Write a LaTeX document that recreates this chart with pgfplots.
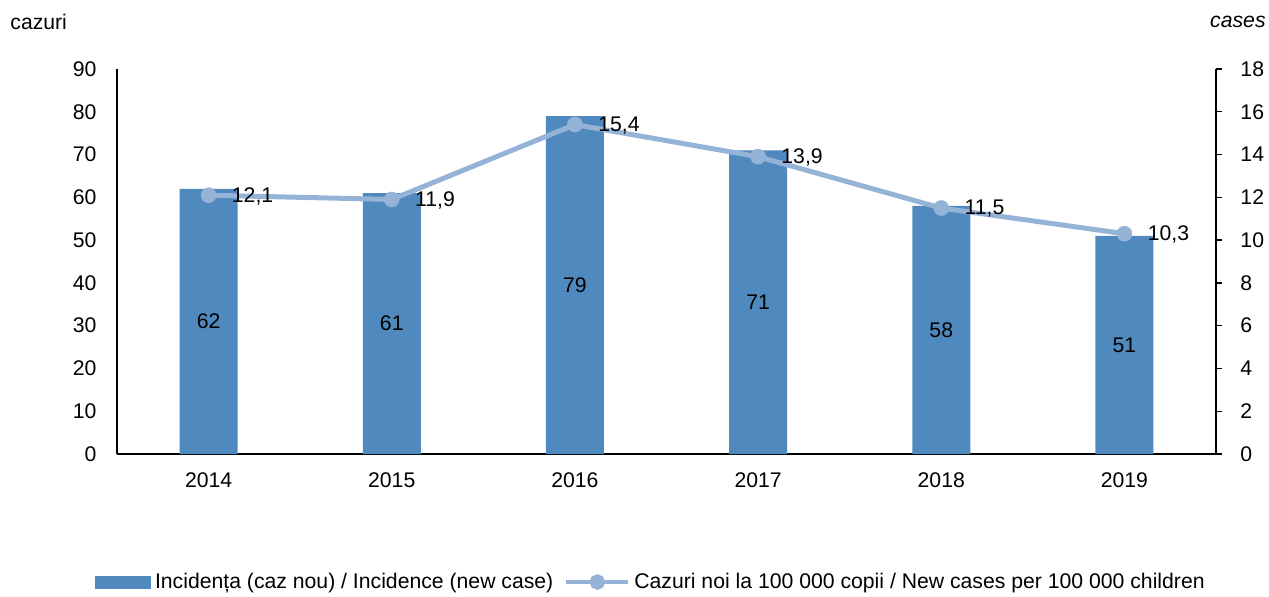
\documentclass[border=0pt]{standalone}
\usepackage{pgfplots}
\pgfplotsset{compat=1.18}
\usepackage{fontspec}
\setmainfont{Liberation Sans}
\definecolor{barblue}{HTML}{4F89BD}
\definecolor{lineblue}{HTML}{95B3D7}
\newcommand{\chartfont}{\fontsize{10.6}{12.5}\selectfont}
\begin{document}
\chartfont
\begin{tikzpicture}
\path[use as bounding box] (0pt,0pt) rectangle (634.5pt,298pt);
\node[anchor=west, inner sep=0pt, font=\chartfont] at (5pt,287pt) {cazuri};
\node[anchor=east, inner sep=0pt, font=\chartfont\itshape] at (633pt,287pt) {cases};
\begin{axis}[
  at={(58.5pt,71pt)}, anchor=south west,
  scale only axis, width=549.5pt, height=192.5pt,
  xmin=-0.5, xmax=5.5, ymin=0, ymax=90,
  axis y line*=left, axis x line*=bottom,
  xtick={0,1,2,3,4,5}, xticklabels={2014,2015,2016,2017,2018,2019},
  ytick={0,10,...,90},
  major tick length=0pt,
  axis line style={line width=0.7pt, -},
  tick label style={font=\chartfont},
  /pgf/number format/assume math mode=true,
  yticklabel style={xshift=-6.5pt},
  xticklabel style={yshift=-5.5pt},
  clip=false,
]
\addplot[ybar, bar width=29pt, fill=barblue, draw=none, forget plot] coordinates {(0,62) (1,61) (2,79) (3,71) (4,58) (5,51)};
\addplot[draw=none, mark=none, forget plot, point meta=explicit symbolic, nodes near coords,
  nodes near coords style={anchor=center, text=black, font=\chartfont}]
  coordinates {(0,31) [62] (1,30.5) [61] (2,39.5) [79] (3,35.5) [71] (4,29) [58] (5,25.5) [51]};
\end{axis}
\begin{axis}[
  at={(58.5pt,71pt)}, anchor=south west,
  scale only axis, width=549.5pt, height=192.5pt,
  xmin=-0.5, xmax=5.5, ymin=0, ymax=18,
  axis y line*=right, axis x line=none,
  ytick={0,2,...,18},
  tick align=outside, major tick length=3pt,
  ytick style={black, line width=0.7pt},
  axis line style={line width=0.7pt, -},
  tick label style={font=\chartfont},
  /pgf/number format/assume math mode=true,
  yticklabel style={xshift=5.5pt},
  clip=false,
  legend columns=2,
  legend style={at={(0.4868,-0.3325)}, anchor=center, draw=none, fill=none,
    font=\chartfont,
    /tikz/every even column/.append style={column sep=3.5pt}},
]
\addlegendimage{legend image code/.code={\fill[barblue] (0pt,-3pt) rectangle (27.5pt,3pt);}}
\addlegendentry{Incidența (caz nou) / Incidence (new case)}
\addplot[lineblue, line width=2.5pt, mark=*, mark size=3.75pt,
  mark options={fill=lineblue, draw=lineblue, line width=0.3pt},
  point meta=explicit symbolic, nodes near coords,
  nodes near coords style={anchor=west, xshift=8pt, yshift=-0.5pt, text=black, font=\chartfont},
  legend image code/.code={\draw[lineblue, line width=2pt] (0pt,0pt) -- (31pt,0pt);
    \fill[lineblue] (15.5pt,0pt) circle (2.6pt);}]
  coordinates {(0,12.1) [12,1] (1,11.9) [11,9] (2,15.4) [15,4] (3,13.9) [13,9] (4,11.5) [11,5] (5,10.3) [10,3]};
\addlegendentry{Cazuri noi la 100 000 copii / New cases per 100 000 children}
\end{axis}
\end{tikzpicture}
\end{document}
